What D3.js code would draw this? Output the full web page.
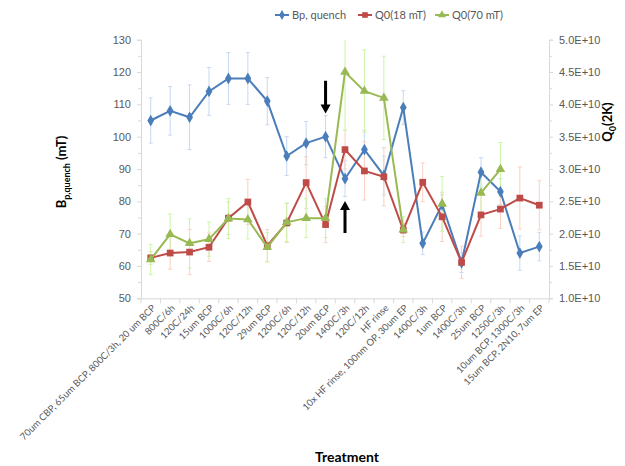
<!DOCTYPE html>
<html>
<head>
<meta charset="utf-8">
<script src="https://cdn.jsdelivr.net/npm/d3@7"></script>
<style>
  body { margin: 0; background: #fff; }
  svg { font-family: Lato, "Open Sans", sans-serif; }
</style>
</head>
<body>
<div id="chart"></div>
<script>
const width = 625, height = 466;

const categories = [
  "70um CBP, 65um BCP,  800C/3h, 20 um BCP", "800C/6h", "120C/24h", "15um BCP", "1000C/6h",
  "120C/12h", "29um BCP", "1200C/6h", "120C/12h", "20um BCP", "1400C/3h", "120C/12h",
  "HF rinse", "10x HF rinse, 100nm OP, 30um EP", "1400C/3h", "1um BCP", "1400C/3h",
  "25um BCP", "1250C/3h", "10um BCP, 1300C/3h", "15um BCP, 2N10, 7um EP"
];

// Bp, quench (mT), left axis
const bp =    [105, 108, 106, 114, 118, 118, 111, 94, 98, 100, 87, 96, 88, 109, 67, 79, 61, 89, 83, 64, 66];
const bpErr = [7, 7.5, 10, 7.4, 8, 8, 7.3, 6, 6.7, 6.5, 5.5, 6, 6, 5.2, 3.5, 3, 3, 4.5, 4, 5.3, 4.4];

// Q0 values, right axis
const q18 =    [1.625e10, 1.70e10, 1.715e10, 1.79e10, 2.24e10, 2.49e10, 1.815e10, 2.165e10, 2.79e10, 2.14e10,
                3.30e10, 2.97e10, 2.88e10, 2.055e10, 2.795e10, 2.26e10, 1.555e10, 2.29e10, 2.38e10, 2.55e10, 2.44e10];
const q18Err = [0.1e10, 0.25e10, 0.35e10, 0.22e10, 0.25e10, 0.35e10, 0.25e10, 0.3e10, 0.4e10, 0.28e10,
                0.3e10, 0.45e10, 0.45e10, 0.1e10, 0.3e10, 0.38e10, 0.25e10, 0.33e10, 0.3e10, 0.48e10, 0.38e10];
const q70 =    [1.60e10, 1.99e10, 1.85e10, 1.915e10, 2.235e10, 2.22e10, 1.79e10, 2.175e10, 2.24e10, 2.24e10,
                4.50e10, 4.205e10, 4.10e10, 2.06e10, null, 2.46e10, null, 2.63e10, 2.995e10, null, null];
const q70Err = [0.235e10, 0.315e10, 0.38e10, 0.265e10, 0.31e10, 0.3e10, 0.225e10, 0.3e10, 0.3e10, 0.3e10,
                0.9e10, 0.635e10, 0.645e10, 0.2e10, 0, 0.425e10, 0, 0.3e10, 0.415e10, 0, 0];

const plot = { left: 141, right: 549, top: 39.7, bottom: 298.3 };

const svg = d3.select('#chart').append('svg')
  .attr('width', width).attr('height', height);

const x = d3.scaleBand().domain(d3.range(categories.length)).range([plot.left, plot.right]);
const cx = i => x(i) + x.bandwidth() / 2;
const yL = d3.scaleLinear().domain([50, 130]).range([plot.bottom, plot.top]);
const yR = d3.scaleLinear().domain([1e10, 5e10]).range([plot.bottom, plot.top]);

const axisColor = '#d9d9d9', textColor = '#595959';

// left axis
svg.append('g')
  .attr('transform', `translate(${plot.left},0)`)
  .call(d3.axisLeft(yL).tickValues(d3.range(50, 131, 10)).tickSize(4).tickPadding(6));
svg.append('g')
  .attr('transform', `translate(${plot.left},0)`)
  .call(d3.axisLeft(yL).tickValues(d3.range(55, 130, 10)).tickSize(3).tickFormat(''))
  .call(g => g.select('.domain').remove());

// right axis
const fmtE = d => (d / 1e10).toFixed(1) + 'E+10';
svg.append('g')
  .attr('transform', `translate(${plot.right},0)`)
  .call(d3.axisRight(yR).tickValues(d3.range(1e10, 5.01e10, 0.5e10)).tickSize(4).tickPadding(6).tickFormat(fmtE));
svg.append('g')
  .attr('transform', `translate(${plot.right},0)`)
  .call(d3.axisRight(yR).tickValues(d3.range(1.25e10, 5e10, 0.5e10)).tickSize(3).tickFormat(''))
  .call(g => g.select('.domain').remove());

// bottom axis
svg.append('g')
  .attr('transform', `translate(0,${plot.bottom})`)
  .call(d3.axisBottom(x).tickSize(0).tickFormat(''));
svg.append('g')
  .selectAll('line')
  .data(d3.range(categories.length + 1))
  .join('line')
    .attr('x1', i => plot.left + i * x.step())
    .attr('x2', i => plot.left + i * x.step())
    .attr('y1', plot.bottom)
    .attr('y2', plot.bottom + 5)
    .attr('stroke', axisColor);

svg.selectAll('.domain, .tick line').attr('stroke', axisColor);
svg.selectAll('.tick text').attr('fill', textColor).attr('font-size', 11);

svg.append('g')
  .selectAll('text')
  .data(categories)
  .join('text')
    .attr('transform', (d, i) => `translate(${cx(i) + 3},${plot.bottom + 8}) rotate(-45)`)
    .attr('text-anchor', 'end')
    .attr('dy', '0.35em')
    .attr('font-size', 9.5)
    .attr('fill', textColor)
    .text(d => d);

// axis titles
const lt = svg.append('text')
  .attr('transform', `translate(66,172) rotate(-90)`)
  .attr('text-anchor', 'middle')
  .attr('font-weight', 'bold')
  .attr('font-size', 13);
lt.append('tspan').text('B');
lt.append('tspan').attr('font-size', 9).attr('dy', 4).text('p,quench');
lt.append('tspan').attr('dy', -4).text(' (mT)');

const rt = svg.append('text')
  .attr('transform', `translate(612,122) rotate(-90)`)
  .attr('text-anchor', 'middle')
  .attr('font-weight', 'bold')
  .attr('font-size', 13);
rt.append('tspan').text('Q');
rt.append('tspan').attr('font-size', 9).attr('dy', 4).text('0');
rt.append('tspan').attr('dy', -4).text('(2K)');

svg.append('text')
  .attr('x', 347).attr('y', 462)
  .attr('text-anchor', 'middle')
  .attr('font-weight', 'bold')
  .attr('font-size', 14)
  .text('Treatment');

// series
const series = [
  { name: 'Bp, quench', vals: bp, errs: bpErr, y: yL, color: '#4a7ebb', errColor: '#c6d9f1', shape: d3.symbolDiamond, size: 40 },
  { name: 'Q0(18 mT)', vals: q18, errs: q18Err, y: yR, color: '#be4b48', errColor: '#fbd0c0', shape: d3.symbolSquare, size: 45 },
  { name: 'Q0(70 mT)', vals: q70, errs: q70Err, y: yR, color: '#98b954', errColor: '#ccf5a8', shape: d3.symbolTriangle, size: 40 }
];

const clip = v => Math.max(plot.top, Math.min(plot.bottom, v));

series.forEach(s => {
  const pts = s.vals.map((v, i) => ({ i, v, e: s.errs[i] })).filter(d => d.v != null);
  const g = svg.append('g');
  g.selectAll('line.err')
    .data(pts)
    .join('line')
      .attr('x1', d => cx(d.i)).attr('x2', d => cx(d.i))
      .attr('y1', d => clip(s.y(d.v - d.e))).attr('y2', d => clip(s.y(d.v + d.e)))
      .attr('stroke', s.errColor).attr('stroke-width', 1);
  [-1, 1].forEach(sign => {
    g.selectAll(null)
      .data(pts.filter(d => s.y(d.v + sign * d.e) >= plot.top))
      .join('line')
        .attr('x1', d => cx(d.i) - 2).attr('x2', d => cx(d.i) + 2)
        .attr('y1', d => s.y(d.v + sign * d.e)).attr('y2', d => s.y(d.v + sign * d.e))
        .attr('stroke', s.errColor);
  });
});

series.forEach(s => {
  const line = d3.line()
    .defined(d => d != null)
    .x((d, i) => cx(i))
    .y(d => s.y(d));
  svg.append('path')
    .datum(s.vals)
    .attr('d', line)
    .attr('fill', 'none')
    .attr('stroke', s.color)
    .attr('stroke-width', 2);
  svg.append('g')
    .selectAll('path')
    .data(s.vals.map((v, i) => ({ v, i })).filter(d => d.v != null))
    .join('path')
      .attr('transform', d => `translate(${cx(d.i)},${s.y(d.v)})`)
      .attr('d', d3.symbol().type(s.shape).size(s.size))
      .attr('fill', s.color);
});

// arrows (tail value -> tip value, left axis units)
const arrows = [
  { i: 9, from: 117.3, to: 107.2 },
  { i: 10, from: 70.2, to: 80.1 }
];
const ag = svg.append('g').selectAll('g').data(arrows).join('g');
ag.append('path')
  .attr('d', d => {
    const xx = cx(d.i), y0 = yL(d.from), y1 = yL(d.to);
    const dir = y1 > y0 ? 1 : -1;
    const yh = y1 - dir * 9;
    return `M${xx - 1.5},${y0} L${xx + 1.5},${y0} L${xx + 1.5},${yh} L${xx + 5},${yh} L${xx},${y1} L${xx - 5},${yh} L${xx - 1.5},${yh} Z`;
  })
  .attr('fill', '#000');

// legend
const legendItems = [
  { s: series[0], x: 275 },
  { s: series[1], x: 358 },
  { s: series[2], x: 435 }
];
const lg = svg.append('g').selectAll('g').data(legendItems).join('g')
  .attr('transform', d => `translate(${d.x},15)`);
lg.append('line').attr('x1', 0).attr('x2', 14).attr('stroke', d => d.s.color).attr('stroke-width', 2);
lg.append('path').attr('transform', 'translate(7,0)')
  .attr('d', d => d3.symbol().type(d.s.shape).size(d.s.size * 0.7)())
  .attr('fill', d => d.s.color);
lg.append('text').attr('x', 17).attr('dy', '0.35em')
  .attr('font-size', 11).attr('fill', textColor)
  .text(d => d.s.name);
</script>
</body>
</html>
